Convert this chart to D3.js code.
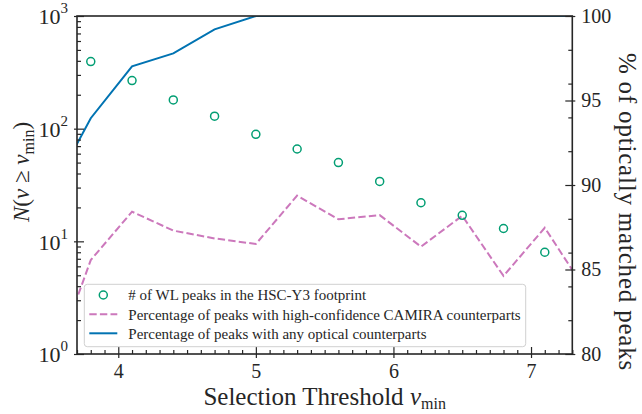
<!DOCTYPE html>
<html>
<head>
<meta charset="utf-8">
<script src="https://cdn.jsdelivr.net/npm/d3@7"></script>
<style>
  html, body { margin: 0; padding: 0; background: #fff; }
  svg text { font-family: "Liberation Serif", "DejaVu Serif", serif; fill: #262626; }
</style>
</head>
<body>
<svg id="chart" width="642" height="414"></svg>
<script>
// ---- data ----
const nuMin = [3.5, 3.8, 4.1, 4.4, 4.7, 5.0, 5.3, 5.6, 5.9, 6.2, 6.5, 6.8, 7.1, 7.4];
const peakCounts = [560, 394, 267, 180, 129, 89, 66, 50, 34, 22, 17, 13, 8, 5];
const pctCamira = [78.8, 85.56, 88.42, 87.30, 86.84, 86.51, 89.37, 87.97, 88.22, 86.35, 88.18, 84.62, 87.47, 83.72];
const pctAny = [89.4, 93.95, 97.02, 97.79, 99.21, 100, 100, 100, 100, 100, 100, 100, 100, 100];
const xTicks = [4, 5, 6, 7];
const yLeftTicks = [1, 10, 100, 1000];
const yRightTicks = [80, 85, 90, 95, 100];
const legendLabels = [
  "# of WL peaks in the HSC-Y3 footprint",
  "Percentage of peaks with high-confidence CAMIRA counterparts",
  "Percentage of peaks with any optical counterparts"
];

const colGreen = "#029e73", colPink = "#cc78bc", colBlue = "#0173b2";
const L = 77, R = 572.3, T = 16, B = 354;

const svg = d3.select("#chart");
const x = d3.scaleLinear().domain([3.7, 7.3]).range([L, R]);
const yL = d3.scaleLog().domain([1, 1000]).range([B, T]);
const yR = d3.scaleLinear().domain([80, 100]).range([B, T]);

svg.append("defs").append("clipPath").attr("id", "clip")
  .append("rect").attr("x", L).attr("y", T).attr("width", R - L).attr("height", B - T);

const plot = svg.append("g").attr("clip-path", "url(#clip)");

// pink dashed (right axis)
plot.append("path")
  .datum(nuMin.map((v, i) => [v, pctCamira[i]]))
  .attr("fill", "none").attr("stroke", colPink).attr("stroke-width", 2)
  .attr("stroke-dasharray", "7.4,3.2")
  .attr("d", d3.line().x(d => x(d[0])).y(d => yR(d[1])));

// blue solid (right axis)
plot.append("path")
  .datum(nuMin.map((v, i) => [v, pctAny[i]]))
  .attr("fill", "none").attr("stroke", colBlue).attr("stroke-width", 2)
  .attr("d", d3.line().x(d => x(d[0])).y(d => yR(d[1])));

// green circles (left axis)
plot.selectAll("circle.pt")
  .data(nuMin.map((v, i) => [v, peakCounts[i]]))
  .join("circle").attr("class", "pt")
  .attr("cx", d => x(d[0])).attr("cy", d => yL(d[1])).attr("r", 4)
  .attr("fill", "none").attr("stroke", colGreen).attr("stroke-width", 1.5);

// ---- axes ----
const axCol = "#262626";
function styleAxis(g) {
  g.select(".domain").remove();
  g.selectAll(".tick line").attr("stroke", axCol).attr("stroke-width", 1.2);
}

// bottom
const xMinor = d3.range(37, 74).map(d => d / 10).filter(v => !xTicks.some(t => Math.abs(t - v) < 1e-9));
svg.append("g").attr("transform", `translate(0,${B})`)
  .call(d3.axisBottom(x).tickValues(xMinor).tickSize(-4).tickFormat(""))
  .call(styleAxis);
const gx = svg.append("g").attr("transform", `translate(0,${B})`)
  .call(d3.axisBottom(x).tickValues(xTicks).tickSize(-7).tickPadding(8).tickFormat(d3.format("d")))
  .call(styleAxis);
gx.selectAll(".tick line").attr("y1", 4);
gx.selectAll(".tick text").attr("font-size", 20).attr("dy", "0.71em").attr("y", 10)
  .style("font-family", "Liberation Serif");

// left (log)
const leftMinor = [];
[1, 10, 100].forEach(dec => { for (let k = 2; k <= 9; k++) leftMinor.push(dec * k); });
svg.append("g").attr("transform", `translate(${L},0)`)
  .call(d3.axisLeft(yL).tickValues(leftMinor).tickSize(-4).tickFormat(""))
  .call(styleAxis);
const gyL = svg.append("g").attr("transform", `translate(${L},0)`)
  .call(d3.axisLeft(yL).tickValues(yLeftTicks).tickSize(-7).tickFormat(""))
  .call(styleAxis);
gyL.selectAll(".tick line").attr("x1", -3);
gyL.selectAll(".tick").each(function(d) {
  const t = d3.select(this).append("text")
    .attr("x", -9).attr("y", 0).attr("dy", "0.36em")
    .attr("text-anchor", "end").attr("font-size", 22);
  t.append("tspan").text("10");
  t.append("tspan").attr("font-size", 15).attr("dy", "-0.75em").text(Math.round(Math.log10(d)));
});

// right
const rightMinor = [82, 84, 86, 88, 92, 94, 96, 98];
svg.append("g").attr("transform", `translate(${R},0)`)
  .call(d3.axisRight(yR).tickValues(rightMinor).tickSize(-4).tickFormat(""))
  .call(styleAxis);
const gyR = svg.append("g").attr("transform", `translate(${R},0)`)
  .call(d3.axisRight(yR).tickValues(yRightTicks).tickSize(-7).tickPadding(9).tickFormat(d3.format("d")))
  .call(styleAxis);
gyR.selectAll(".tick line").attr("x1", 3);
gyR.selectAll(".tick text").attr("font-size", 20).attr("x", 9)
  .style("font-family", "Liberation Serif");

// spines (drawn on top)
svg.append("rect").attr("x", L).attr("y", T).attr("width", R - L).attr("height", B - T)
  .attr("fill", "none").attr("stroke", axCol).attr("stroke-width", 1.6);

// ---- axis labels ----
const xl = svg.append("text").attr("x", (L + R) / 2).attr("y", 405)
  .attr("text-anchor", "middle").attr("font-size", 25);
xl.append("tspan").text("Selection Threshold ");
xl.append("tspan").attr("font-style", "italic").text("ν");
xl.append("tspan").attr("font-size", 16).attr("dy", "0.25em").text("min");

const yl = svg.append("text").attr("transform", "translate(29,172) rotate(-90)")
  .attr("text-anchor", "middle").attr("font-size", 23);
yl.append("tspan").attr("font-style", "italic").text("N");
yl.append("tspan").text("(");
yl.append("tspan").attr("font-style", "italic").text("ν");
yl.append("tspan").text(" ≥ ");
yl.append("tspan").attr("font-style", "italic").text("ν");
yl.append("tspan").attr("font-size", 16).attr("dy", "0.3em").text("min");
yl.append("tspan").attr("dy", "-0.2em").text(")");

svg.append("text").attr("transform", "translate(619,212) rotate(90)")
  .attr("text-anchor", "middle").attr("font-size", 25).attr("letter-spacing", 0.8)
  .text("% of optically matched peaks");

// ---- legend ----
const lg = svg.append("g");
lg.append("rect").attr("x", 84.3).attr("y", 284.3).attr("width", 441.4).attr("height", 62.4)
  .attr("rx", 3).attr("fill", "#fff").attr("fill-opacity", 0.8)
  .attr("stroke", "#d0d0d0").attr("stroke-width", 1);
const rowY = [295, 314.3, 333.3];
lg.append("circle").attr("cx", 103.3).attr("cy", rowY[0]).attr("r", 4)
  .attr("fill", "none").attr("stroke", colGreen).attr("stroke-width", 1.5);
lg.append("line").attr("x1", 89.3).attr("x2", 117.3).attr("y1", rowY[1]).attr("y2", rowY[1])
  .attr("stroke", colPink).attr("stroke-width", 2).attr("stroke-dasharray", "7.4,3.2");
lg.append("line").attr("x1", 89.3).attr("x2", 117.3).attr("y1", rowY[2]).attr("y2", rowY[2])
  .attr("stroke", colBlue).attr("stroke-width", 2);
legendLabels.forEach((s, i) => {
  lg.append("text").attr("x", 128.3).attr("y", rowY[i]).attr("dy", "0.35em")
    .attr("font-size", 15).text(s);
});
</script>
</body>
</html>
